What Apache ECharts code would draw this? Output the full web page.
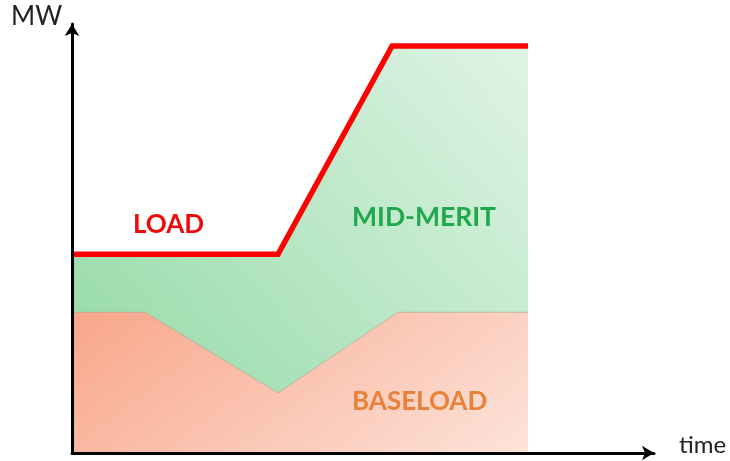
<!DOCTYPE html>
<html>
<head>
<meta charset="utf-8">
<script src="https://cdn.jsdelivr.net/npm/echarts@6/dist/echarts.min.js"></script>
<style>
html,body{margin:0;padding:0;background:#fff;}
#chart{width:730px;height:461px;}
</style>
</head>
<body>
<div id="chart"></div>
<script>
// time breakpoints and MW values
const loadTime = [0, 45.3, 70.4, 100.3];
const loadMW   = [46.3, 46.3, 94.9, 94.9];
const baseTime = [0, 16.1, 45.3, 71.7, 100.3];
const baseMW   = [32.8, 32.8, 14.0, 32.8, 32.8];
const timeMax = 128;
const mwMax = 100;
const labels = ['LOAD', 'MID-MERIT', 'BASELOAD'];
const axisNames = ['MW', 'time'];

const toPairs = (xs, ys) => xs.map((x, i) => [x, ys[i]]);

const chart = echarts.init(document.getElementById('chart'), null, {renderer: 'canvas'});
const G = echarts.graphic;
const fontFam = 'Lato, "Open Sans", sans-serif';

chart.setOption({
  animation: false,
  backgroundColor: '#ffffff',
  grid: {left: 72, right: 76, top: 24, bottom: 8, containLabel: false},
  xAxis: {
    type: 'value', min: 0, max: timeMax, z: 10,
    axisLine: {show: true, onZero: false, symbol: ['none', 'arrow'], symbolSize: [11, 12],
      lineStyle: {color: '#000', width: 3}},
    axisTick: {show: false}, axisLabel: {show: false}, splitLine: {show: false}
  },
  yAxis: {
    type: 'value', min: 0, max: mwMax, z: 10,
    axisLine: {show: true, onZero: false, symbol: ['none', 'arrow'], symbolSize: [11, 12],
      lineStyle: {color: '#000', width: 3}},
    axisTick: {show: false}, axisLabel: {show: false}, splitLine: {show: false}
  },
  series: [
    {
      name: 'mid', type: 'line', data: toPairs(loadTime, loadMW), symbol: 'none', z: 2,
      lineStyle: {width: 0},
      areaStyle: {opacity: 1, color: new G.LinearGradient(0, 1, 1, 0, [
        {offset: 0, color: '#8ed8a2'},
        {offset: 1, color: '#e0f4e5'}
      ])}
    },
    {
      name: 'base', type: 'line', data: toPairs(baseTime, baseMW), symbol: 'none', z: 3,
      lineStyle: {width: 1, color: 'rgba(170,150,140,0.5)'},
      areaStyle: {opacity: 1, color: new G.LinearGradient(72, 312, 304, 621, [
        {offset: 0, color: '#f8a68a'},
        {offset: 1, color: '#fde3da'}
      ], true)}
    },
    {
      name: 'load', type: 'line', data: toPairs(loadTime, loadMW), symbol: 'none', z: 4,
      lineStyle: {width: 5.5, color: '#ff0000', join: 'miter'}
    }
  ],
  graphic: [
    {type: 'text', left: 11, top: 4, z: 20, style: {text: axisNames[0], fill: '#222', font: '400 26px ' + fontFam}},
    {type: 'text', left: 679, top: 433, z: 20, style: {text: axisNames[1], fill: '#222', font: '400 24px ' + fontFam}},
    {type: 'text', left: 133, top: 212, z: 20, style: {text: labels[0], fill: '#ee0a0a', font: '700 26px ' + fontFam}},
    {type: 'text', left: 352, top: 204, z: 20, style: {text: labels[1], fill: '#20a84c', font: '700 26.5px ' + fontFam}},
    {type: 'text', left: 352, top: 389, z: 20, style: {text: labels[2], fill: '#e8823a', font: '700 26px ' + fontFam}}
  ]
});
</script>
</body>
</html>
